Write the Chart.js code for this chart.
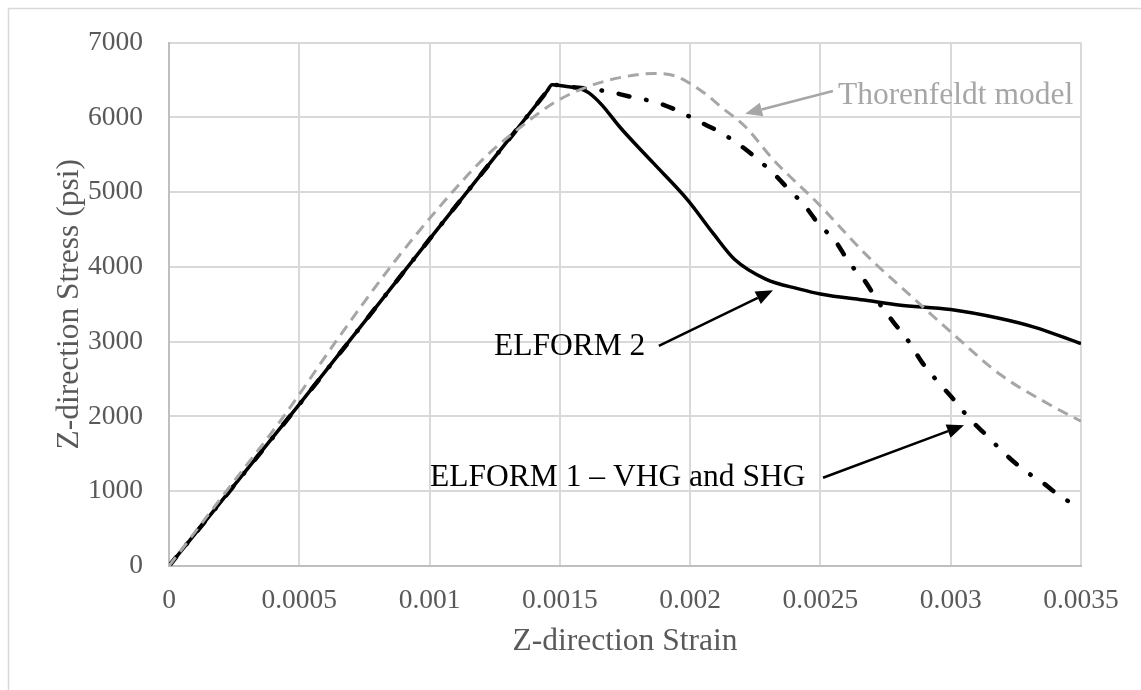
<!DOCTYPE html>
<html>
<head>
<meta charset="utf-8">
<script src="https://cdn.jsdelivr.net/npm/chart.js@4.4.1/dist/chart.umd.min.js"></script>
<style>
  html, body { margin: 0; padding: 0; background: #ffffff; }
  #wrap { width: 1141px; height: 690px; position: relative; }
</style>
</head>
<body>
<div id="wrap"><canvas id="c"></canvas></div>
<script>
// ---- Data ----
const xTickLabels = ['0', '0.0005', '0.001', '0.0015', '0.002', '0.0025', '0.003', '0.0035'];
const yTickLabels = ['0', '1000', '2000', '3000', '4000', '5000', '6000', '7000'];

// ELFORM 2 (solid black)
const elform2Strain = [0, 0.0005, 0.001, 0.00145, 0.00147, 0.00152, 0.00157, 0.00161, 0.00166, 0.00173, 0.00186, 0.00199, 0.00209, 0.00217, 0.00229, 0.00242, 0.00250, 0.00268, 0.00280, 0.00300, 0.00319, 0.00332, 0.00350];
const elform2Stress = [0, 2160, 4370, 6345, 6434, 6415, 6390, 6330, 6170, 5870, 5383, 4896, 4440, 4101, 3836, 3703, 3637, 3549, 3491, 3430, 3310, 3195, 2974];

// ELFORM 1 - VHG and SHG (black dash-dot)
const elform1Strain = [0, 0.0005, 0.001, 0.00145, 0.00147, 0.00156, 0.00169, 0.00178, 0.00187, 0.00196, 0.00203, 0.00211, 0.00219, 0.00226, 0.00233, 0.00238, 0.00244, 0.00249, 0.00256, 0.00261, 0.00267, 0.00272, 0.00278, 0.00284, 0.00289, 0.00295, 0.00301, 0.00307, 0.00314, 0.00321, 0.00328, 0.00336, 0.00342, 0.00350];
const elform1Stress = [0, 2160, 4370, 6345, 6434, 6400, 6341, 6267, 6200, 6076, 5949, 5810, 5630, 5436, 5214, 5029, 4817, 4587, 4331, 4057, 3814, 3540, 3261, 2996, 2722, 2466, 2231, 1979, 1737, 1494, 1286, 1096, 932, 778];

// Thorenfeldt model (grey dashed)
const thorStrain = [0, 0.00022, 0.00044, 0.00064, 0.00085, 0.00105, 0.00122, 0.00135, 0.00148, 0.00160, 0.00173, 0.00186, 0.00194, 0.00205, 0.00212, 0.00221, 0.00232, 0.00249, 0.00268, 0.00286, 0.00300, 0.00319, 0.00338, 0.00350];
const thorStress = [0, 1000, 2000, 3000, 4000, 4850, 5490, 5870, 6200, 6400, 6530, 6585, 6555, 6335, 6135, 5880, 5430, 4850, 4146, 3570, 3130, 2560, 2157, 1936];

// Annotation labels (text + arrow), anchored in data units
const annotations = [
  { text: 'Thorenfeldt model', color: '#a6a6a6', tx: 0.002567, ty: 6178, ax0: 0.002548, ay0: 6351, ax1: 0.002211, ay1: 6046 },
  { text: 'ELFORM 2', color: '#000000', tx: 0.001247, ty: 2824, ax0: 0.00188, ay0: 2943, ax1: 0.002318, ay1: 3686 },
  { text: 'ELFORM 1 \u2013 VHG and SHG', color: '#000000', tx: 0.001002, ty: 1074, ax0: 0.00251, ay0: 1180, ax1: 0.003051, ay1: 1883 }
];

const toXY = (xs, ys) => xs.map((x, i) => ({ x: x, y: ys[i] }));
const SERIF = '"Liberation Serif", "Times New Roman", serif';

const framePlugin = {
  id: 'frame',
  beforeDraw(chart) {
    const ctx = chart.ctx;
    ctx.save();
    ctx.fillStyle = '#ffffff';
    ctx.fillRect(0, 0, chart.width, chart.height);
    ctx.strokeStyle = '#d9d9d9';
    ctx.lineWidth = 1.5;
    ctx.strokeRect(8.5, 8.5, chart.width + 20, chart.height + 20);
    ctx.restore();
  }
};

const annotPlugin = {
  id: 'annot',
  afterDatasetsDraw(chart) {
    const ctx = chart.ctx;
    const xs = chart.scales.x, ys = chart.scales.y;
    ctx.save();
    annotations.forEach(a => {
      ctx.font = '31.5px ' + SERIF;
      ctx.fillStyle = a.color;
      ctx.textBaseline = 'alphabetic';
      ctx.textAlign = 'left';
      ctx.fillText(a.text, xs.getPixelForValue(a.tx), ys.getPixelForValue(a.ty));
      const x0 = xs.getPixelForValue(a.ax0), y0 = ys.getPixelForValue(a.ay0);
      const x1 = xs.getPixelForValue(a.ax1), y1 = ys.getPixelForValue(a.ay1);
      const ang = Math.atan2(y1 - y0, x1 - x0);
      const hl = 17, hw = 7;
      const bx = x1 - hl * Math.cos(ang), by = y1 - hl * Math.sin(ang);
      ctx.strokeStyle = a.color;
      ctx.lineWidth = 2.5;
      ctx.beginPath();
      ctx.moveTo(x0, y0);
      ctx.lineTo(bx, by);
      ctx.stroke();
      ctx.beginPath();
      ctx.moveTo(x1, y1);
      ctx.lineTo(bx + hw * Math.sin(ang), by - hw * Math.cos(ang));
      ctx.lineTo(bx - hw * Math.sin(ang), by + hw * Math.cos(ang));
      ctx.closePath();
      ctx.fill();
    });
    ctx.restore();
  }
};

new Chart(document.getElementById('c'), {
  type: 'line',
  data: {
    datasets: [
      {
        label: 'Thorenfeldt model',
        data: toXY(thorStrain, thorStress),
        borderColor: '#a6a6a6',
        borderWidth: 3,
        borderDash: [11, 7],
        pointRadius: 0,
        cubicInterpolationMode: 'monotone',
        fill: false,
        order: 0
      },
      {
        label: 'ELFORM 1 - VHG and SHG',
        data: toXY(elform1Strain, elform1Stress),
        borderColor: '#000000',
        borderWidth: 4.5,
        borderDash: [11, 17, 0.5, 17],
        borderCapStyle: 'round',
        pointRadius: 0,
        cubicInterpolationMode: 'monotone',
        fill: false,
        order: 1
      },
      {
        label: 'ELFORM 2',
        data: toXY(elform2Strain, elform2Stress),
        borderColor: '#000000',
        borderWidth: 3.5,
        pointRadius: 0,
        cubicInterpolationMode: 'monotone',
        fill: false,
        order: 2
      }
    ]
  },
  options: {
    responsive: true,
    maintainAspectRatio: false,
    animation: false,
    events: [],
    layout: { padding: { top: 38, right: 60, left: 0, bottom: 0 } },
    plugins: {
      legend: { display: false },
      tooltip: { enabled: false },
      title: { display: false }
    },
    scales: {
      x: {
        type: 'linear',
        min: 0,
        max: 0.0035,
        afterFit(scale) { scale.height = 124; },
        afterBuildTicks(scale) {
          scale.ticks = xTickLabels.map(t => ({ value: parseFloat(t) }));
        },
        grid: { color: '#d9d9d9', lineWidth: 2, drawTicks: false },
        border: { color: '#bfbfbf', width: 2 },
        ticks: {
          padding: 18,
          color: '#595959',
          font: { family: SERIF, size: 27.5 },
          maxRotation: 0,
          autoSkip: false,
          callback: (v, i) => xTickLabels[i]
        },
        title: {
          display: true,
          text: 'Z-direction Strain',
          color: '#595959',
          font: { family: SERIF, size: 31.5 },
          padding: { top: 0, bottom: 29 }
        }
      },
      y: {
        type: 'linear',
        min: 0,
        max: 7000,
        afterFit(scale) { scale.width = 169; },
        afterBuildTicks(scale) {
          scale.ticks = yTickLabels.map(t => ({ value: parseFloat(t) }));
        },
        grid: { color: '#d9d9d9', lineWidth: 2, drawTicks: false },
        border: { color: '#bfbfbf', width: 2 },
        ticks: {
          padding: 26,
          color: '#595959',
          font: { family: SERIF, size: 27.5 },
          autoSkip: false,
          callback: (v, i) => yTickLabels[i]
        },
        title: {
          display: true,
          text: 'Z-direction Stress (psi)',
          color: '#595959',
          font: { family: SERIF, size: 31.5 },
          padding: { top: 51, bottom: 0 }
        }
      }
    }
  },
  plugins: [framePlugin, annotPlugin]
});
</script>
</body>
</html>
